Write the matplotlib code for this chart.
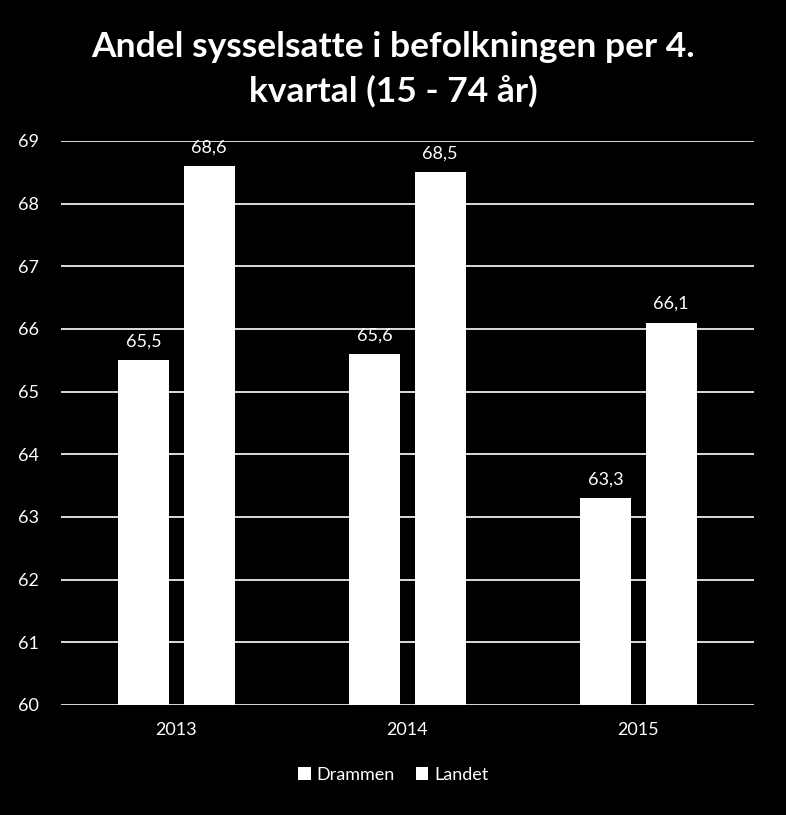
import matplotlib
matplotlib.use("Agg")
import matplotlib.pyplot as plt
import numpy as np

years = ["2013", "2014", "2015"]
drammen = [65.5, 65.6, 63.3]
landet = [68.6, 68.5, 66.1]
yticks = list(range(60, 70))

plt.rcParams['font.family'] = ['Lato', 'DejaVu Sans']

fig = plt.figure(figsize=(7.86, 8.15), dpi=100, facecolor='black')
ax = fig.add_axes([0.0776, 0.135, 0.8814, 0.692], facecolor='black')

x = np.arange(len(years))
w = 0.22
off = 0.142
b1 = ax.bar(x - off, np.array(drammen) - 60, w, bottom=60, color='white', label='Drammen', zorder=3)
b2 = ax.bar(x + off, np.array(landet) - 60, w, bottom=60, color='white', label='Landet', zorder=3)

for bars, vals in ((b1, drammen), (b2, landet)):
    for r, v in zip(bars, vals):
        ax.text(r.get_x() + r.get_width() / 2, v + 0.17, f"{v:.1f}".replace('.', ','),
                ha='center', va='bottom', color='white', fontsize=13)

ax.set_xlim(-0.5, 2.5)
ax.set_ylim(60, 69)
ax.set_yticks(yticks)
ax.set_xticks(x)
ax.set_xticklabels(years)
ax.yaxis.grid(True, color='white', linewidth=1.2, zorder=0)
ax.set_axisbelow(True)
for s in ax.spines.values():
    s.set_visible(False)
ax.tick_params(axis='both', length=0, colors='white', labelsize=13)
ax.tick_params(axis='y', pad=16)
ax.tick_params(axis='x', pad=12)

fig.suptitle("Andel sysselsatte i befolkningen per 4.\nkvartal (15 - 74 år)", color='white',
             fontsize=25.5, fontweight='bold', y=0.962, linespacing=1.45)

leg = fig.legend(handles=[b1, b2], labels=['Drammen', 'Landet'], loc='center',
                 bbox_to_anchor=(0.5, 0.049), ncol=2, frameon=False, fontsize=13,
                 handlelength=0.7, handleheight=0.7, handletextpad=0.3, columnspacing=1.2)
for t in leg.get_texts():
    t.set_color('white')

fig.savefig("out.png", dpi=100, facecolor='black')
